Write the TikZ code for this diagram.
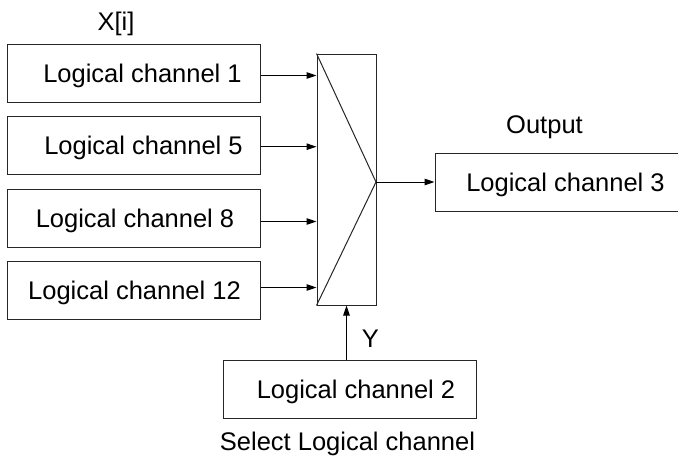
\documentclass[tikz,border=0pt]{standalone}
\usepackage{fontspec}
\setmainfont{Liberation Sans}
\usetikzlibrary{arrows.meta}
\begin{document}
\begin{tikzpicture}[x=1pt,y=-1pt,
  font=\fontsize{25.5}{30}\selectfont,
  chbox/.style={draw=black!85,line width=1pt,minimum width=253pt,minimum height=58pt,inner sep=0pt},
  txt/.style={anchor=base,inner sep=0pt},
  arr/.style={draw=black,line width=1pt,-{Triangle[length=10pt,width=6.5pt]}},
  thin/.style={draw=black!85,line width=1pt}]
\useasboundingbox (0,0) rectangle (678,458);
\clip (0,0) rectangle (678,458);
% input boxes
\node[chbox] (b1) at (133.5,73) {};
\node[chbox] (b2) at (133.5,145) {};
\node[chbox] (b3) at (133.5,218) {};
\node[chbox] (b4) at (133.5,290) {};
\node[txt] (t1) at (142.5,82.3) {Logical channel 1};
\node[txt] (t2) at (143.5,154.3) {Logical channel 5};
\node[txt] (t3) at (135,227.3) {Logical channel 8};
\node[txt] (t4) at (134.5,299.3) {Logical channel 12};
\node[txt] (xi) at (116,30) {X[i]};
% multiplexer
\node[thin,minimum width=59pt,minimum height=251pt,inner sep=0pt] (mux) at (346.5,179.5) {};
\coordinate (tip) at (376,182);
\draw[thin] (mux.north west) -- (tip) -- (mux.south west);
% output
\node[chbox,minimum width=255pt] (out) at (562.5,182) {};
\node[txt] (t5) at (565.5,191.3) {Logical channel 3};
\node[txt] (outl) at (544.5,133) {Output};
% select
\node[chbox] (bot) at (349.5,389) {};
\node[txt] (t6) at (356,398.3) {Logical channel 2};
\node[txt] (sel) at (347.5,450) {Select Logical channel};
\node[txt] (yl) at (370.5,347) {Y};
% arrows
\coordinate (p1) at ([yshift=-2.5pt]b1.east);
\coordinate (p2) at ([yshift=-1.7pt]b2.east);
\coordinate (p3) at ([yshift=-3.5pt]b3.east);
\coordinate (p4) at ([yshift=2.5pt]b4.east);
\draw[arr] (p1) -- (p1 -| mux.west);
\draw[arr] (p2) -- (p2 -| mux.west);
\draw[arr] (p3) -- (p3 -| mux.west);
\draw[arr] (p4) -- (p4 -| mux.west);
\draw[arr] (tip) -- (tip -| out.west);
\draw[arr] (mux.south |- bot.north) -- (mux.south);
\end{tikzpicture}
\end{document}
